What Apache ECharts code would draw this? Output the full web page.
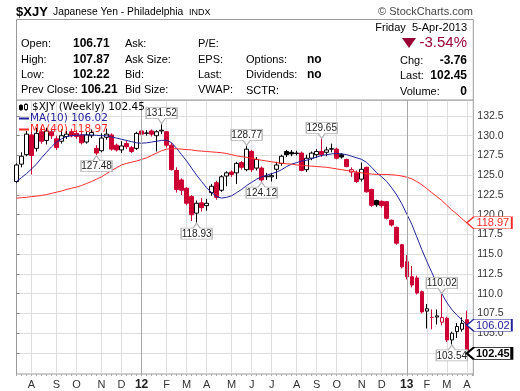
<!DOCTYPE html>
<html><head><meta charset="utf-8">
<script src="https://cdn.jsdelivr.net/npm/echarts@6/dist/echarts.min.js"></script>
<style>html,body{margin:0;padding:0;background:#fff}#c{width:520px;height:391px}</style>
</head><body><div id="c"></div>
<script>
// ---- data (weekly, first bar = week of Mon 2011-07-11) ----
const firstWeek = '2011-07-11';
const opens  = [124.2,126.4,127.6,130.1,128.4,130.5,129.4,130.5,129.6,129.3,
 129.9,130.5,130.3,130.1,129.2,130.0,128.4,128.1,129.8,130.1,
 128.8,128.2,129.0,128.5,128.4,130.6,130.3,130.6,130.0,130.6,
 130.5,128.8,125.6,124.4,123.35,122.3,120.2,121.5,121.15,122.8,
 124.05,123.1,124.9,125.4,125.3,126.6,125.7,128.0,125.9,125.9,
 124.8,124.8,125.75,126.5,128.0,127.9,127.8,127.8,125.7,127.15,
 127.6,128.0,127.9,128.3,128.3,127.6,127.0,125.4,125.3,124.5,
 126.0,123.2,121.8,121.7,121.65,119.3,118.4,116.2,114.05,112.15,
 112.0,110.25,107.8,107.0,107.05,106.4,106.9,104.15,105.2,105.5,
 106.71];
const closes = [126.3,127.4,130.2,127.5,130.3,129.3,130.6,130.0,128.5,130.0,
 130.2,130.0,129.9,129.1,130.1,130.4,127.8,129.7,130.2,128.3,
 128.2,128.7,128.6,128.0,130.3,130.2,130.35,130.2,130.5,130.7,
 128.8,125.7,123.2,123.1,121.45,120.0,121.45,120.9,121.45,123.6,
 122.2,124.8,125.3,125.1,126.5,126.0,128.3,125.7,127.0,124.4,
 124.9,124.95,126.3,127.4,127.6,127.7,127.75,125.6,127.15,127.8,
 128.0,127.6,128.2,128.35,127.15,127.3,126.1,125.7,124.2,125.75,
 122.9,121.2,121.25,121.15,119.55,118.7,116.4,113.4,112.15,111.1,
 110.1,107.7,108.1,107.0,107.2,107.0,104.15,105.0,105.85,106.25,
 102.45];
const lows   = [124.0,126.0,127.4,125.1,128.0,129.0,128.9,129.6,128.2,129.0,
 129.6,129.8,129.6,128.9,129.0,129.7,127.48,127.9,129.5,128.1,
 128.0,127.8,128.3,127.8,128.2,129.3,130.0,129.9,128.0,130.2,
 128.5,125.6,122.8,122.5,121.2,119.2,118.93,120.4,120.5,122.4,
 121.9,122.9,123.6,124.8,123.9,125.7,125.5,125.4,125.6,124.12,
 124.4,124.2,124.5,126.2,127.3,127.4,127.5,125.5,125.4,126.9,
 127.2,127.3,127.4,127.9,127.0,127.1,126.0,124.8,124.0,124.2,
 122.8,121.0,121.0,120.9,119.4,118.5,116.2,113.2,111.8,110.8,
 109.9,107.5,105.6,105.5,106.1,106.0,103.9,103.54,104.4,105.2,
 102.22];
const highs  = [126.5,127.9,130.6,131.0,131.0,131.2,131.0,130.9,130.0,130.8,
 130.6,130.9,130.7,130.5,130.5,130.8,128.8,130.3,130.9,130.3,
 129.0,129.3,129.4,128.7,130.5,130.8,130.7,130.8,130.7,131.52,
 130.6,129.1,126.0,124.6,123.5,122.5,121.8,122.1,122.0,123.9,
 124.3,125.0,125.5,125.6,126.7,126.8,128.77,128.2,127.3,126.1,
 125.3,125.3,126.7,127.6,128.2,128.2,128.1,128.0,127.6,128.0,
 128.3,129.65,128.6,129.0,128.5,127.8,127.1,126.0,125.6,126.6,
 126.1,123.3,121.9,121.8,121.7,119.4,118.5,116.3,114.9,113.5,
 112.3,110.4,108.7,108.0,108.0,110.02,107.1,105.2,106.3,107.0,
 107.87];
const ma10 = [124.2,124.7,125.2,125.8,126.4,127.2,127.9,128.6,129.2,129.6,
 129.9,130.0,130.05,130.1,130.1,130.1,130.05,130.0,130.0,129.85,
 129.7,129.55,129.4,129.25,129.1,129.05,129.1,129.2,129.3,129.4,
 129.45,129.1,128.4,127.6,126.8,125.9,125.0,124.2,123.4,122.8,
 122.3,122.1,122.2,122.4,122.8,123.2,123.7,124.1,124.5,124.8,
 125.0,125.2,125.4,125.7,126.1,126.4,126.6,126.8,126.9,127.1,
 127.3,127.5,127.6,127.7,127.75,127.7,127.6,127.4,127.2,127.0,
 126.6,126.0,125.3,124.8,124.2,123.4,122.5,121.4,120.1,118.8,
 117.2,115.6,114.1,112.7,111.3,110.0,108.9,108.0,107.3,106.7,
 106.02];
const ma40 = [122.1,122.15,122.2,122.3,122.35,122.45,122.55,122.7,122.85,123.0,
 123.2,123.35,123.5,123.7,123.95,124.2,124.5,124.8,125.2,125.6,
 125.95,126.3,126.5,126.65,126.8,127.0,127.2,127.5,127.8,128.1,
 128.3,128.35,128.35,128.3,128.25,128.2,128.1,128.05,128.0,127.95,
 127.9,127.85,127.75,127.6,127.45,127.35,127.25,127.15,127.0,126.9,
 126.8,126.7,126.6,126.5,126.45,126.4,126.3,126.25,126.2,126.15,
 126.1,126.05,126.0,125.9,125.8,125.7,125.6,125.5,125.4,125.3,
 125.2,125.15,125.1,125.1,125.1,125.05,125.0,124.9,124.75,124.55,
 124.2,123.8,123.3,122.8,122.3,121.8,121.2,120.6,120.1,119.5,
 118.97];
// month tick positions (bar index of first week of month) and their labels
const xTickIdx  = [3,8,12,17,21,25,30,34,38,43,47,51,56,60,64,69,73,78,82,86,90];
const xTickText = ['A','S','O','N','D','12','F','M','A','M','J','J','A','S','O','N','D','13','F','M','A'];
const yearIdx = [25,78];
const yTicks = [102.5,105,107.5,110,112.5,115,117.5,120,122.5,125,127.5,130,132.5];
// annotated highs / lows
const noteIdx  = [29,16,46,49,61,36,85,87];
const noteKind = ['high','low','high','low','high','low','high','low'];

// ---- build ----
const RED = '#cc0033', BLACK = '#000000', NAVY = '#22229a', MARED = '#ff2a2a';
const FONT = "'Liberation Sans', Arial, sans-serif";
const weeks = [];
{ const d0 = new Date(firstWeek + 'T00:00:00Z');
  for (let i = 0; i < opens.length; i++) { const d = new Date(d0.getTime() + i*7*864e5); weeks.push(d.toISOString().slice(0,10)); } }

const candleData = opens.map((o, i) => {
  const c = closes[i];
  const prev = i > 0 ? closes[i-1] : o;
  const col = c < prev ? RED : BLACK;
  const fill = c > o ? '#ffffff' : col;
  return { name: weeks[i], value: [i, o, c, lows[i], highs[i]],
    itemStyle: { color: fill, color0: fill, borderColor: col, borderColor0: col, borderWidth: 1 } };
});
const last = opens.length - 1;

const tagPath = 'path://M0,6L7,0L45,0L45,12L7,12Z';
const upPath = 'path://M0,0L31,0L31,11L19,11L15.5,16L12,11L0,11Z';
const dnPath = 'path://M12,5L15.5,0L19,5L31,5L31,16L0,16L0,5Z';
function sideTag(x, v, col, bold, bw) {
  return { coord: [x, v], value: v, symbol: tagPath, symbolSize: [45, 12], symbolOffset: [22.5, 0],
    itemStyle: { color: '#fff', borderColor: col, borderWidth: bw },
    label: { show: true, position: 'inside', offset: [3.5, 0.5], color: col, fontSize: 11, fontFamily: FONT,
      fontWeight: bold ? 'bold' : 'normal', formatter: p => Number(p.value).toFixed(2) } };
}
const notes = noteIdx.map((idx, k) => {
  const hi = noteKind[k] === 'high';
  const v = hi ? highs[idx] : lows[idx];
  return { coord: [idx, v], value: v, symbol: hi ? upPath : dnPath, symbolSize: [31, 16],
    symbolOffset: [0, hi ? -8 : 8],
    itemStyle: { color: '#fff', borderColor: '#b4b4b4', borderWidth: 1 },
    label: { show: true, position: 'inside', offset: [0, hi ? -2.5 : 3], color: '#222', fontSize: 10, fontFamily: FONT,
      formatter: p => Number(p.value).toFixed(2) } };
});

const T = (text, x, y, o) => Object.assign({ type: 'text', x: x, y: y, z: 100,
  style: Object.assign({ text: text, fill: '#000', font: '11px ' + FONT, align: 'left', verticalAlign: 'middle' }, (o || {})) });

const graphics = [
  { type: 'rect', z: 1, shape: { x: 16.5, y: 19.5, width: 456.8, height: 80.5 }, style: { fill: '#fff', stroke: '#9a9a9a', lineWidth: 1 } },
  T('$XJY', 16, 12, { font: 'bold 13px ' + FONT }),
  T('Japanese Yen - Philadelphia', 53, 12, { font: '10.3px ' + FONT }),
  T('INDX', 189, 12.5, { font: '9px ' + FONT }),
  T('\u00a9 StockCharts.com', 473, 12, { align: 'right', fill: '#444' }),
  T('Friday  5-Apr-2013', 467, 28, { align: 'right' }),
  { type: 'polygon', z: 100, shape: { points: [[402, 38], [416, 38], [409, 48]] }, style: { fill: '#990033' } },
  T('-3.54%', 467, 43, { align: 'right', fill: '#990033', font: '15px ' + FONT }),
  T('Open:', 21, 44), T('High:', 21, 59.5), T('Low:', 21, 74.5), T('Prev Close:', 21, 90),
  T('106.71', 73, 44, { font: 'bold 12px ' + FONT }), T('107.87', 73, 59.5, { font: 'bold 12px ' + FONT }),
  T('102.22', 73, 74.5, { font: 'bold 12px ' + FONT }), T('106.21', 81, 90, { font: 'bold 12px ' + FONT }),
  T('Ask:', 125, 44), T('Ask Size:', 125, 59.5), T('Bid:', 125, 74.5), T('Bid Size:', 125, 90),
  T('P/E:', 198, 44), T('EPS:', 198, 59.5), T('Last:', 198, 74.5), T('VWAP:', 198, 90),
  T('Options:', 246, 60), T('no', 307, 60, { font: 'bold 12px ' + FONT }),
  T('Dividends:', 246, 75), T('no', 307, 75, { font: 'bold 12px ' + FONT }),
  T('SCTR:', 246, 90.5),
  T('Chg:', 400, 61), T('-3.76', 467, 61, { align: 'right', font: 'bold 12px ' + FONT }),
  T('Last:', 400, 76), T('102.45', 467, 76, { align: 'right', font: 'bold 12px ' + FONT }),
  T('Volume:', 400, 91.5), T('0', 467, 91.5, { align: 'right', font: 'bold 12px ' + FONT }),
  // legend
  { type: 'line', z: 100, shape: { x1: 21, y1: 104, x2: 21, y2: 111 }, style: { stroke: '#000', lineWidth: 1 } },
  { type: 'rect', z: 100, shape: { x: 19.5, y: 105.5, width: 3, height: 4 }, style: { fill: '#000', stroke: '#000' } },
  { type: 'line', z: 100, shape: { x1: 26, y1: 103, x2: 26, y2: 111 }, style: { stroke: '#000', lineWidth: 1 } },
  { type: 'rect', z: 100, shape: { x: 24.5, y: 104.5, width: 3, height: 5 }, style: { fill: '#fff', stroke: '#000' } },
  T('$XJY (Weekly) 102.45', 32, 107.5, { font: '10.5px DejaVu Sans, Verdana, sans-serif' }),
  { type: 'line', z: 100, shape: { x1: 19, y1: 118.5, x2: 29, y2: 118.5 }, style: { stroke: NAVY, lineWidth: 2 } },
  T('MA(10) 106.02', 30, 118.5, { font: '10.5px DejaVu Sans, Verdana, sans-serif', fill: NAVY }),
  { type: 'line', z: 100, shape: { x1: 19, y1: 129.5, x2: 29, y2: 129.5 }, style: { stroke: MARED, lineWidth: 2 } },
  T('MA(40) 118.97', 30, 129.5, { font: '10.5px DejaVu Sans, Verdana, sans-serif', fill: MARED })
];

const chart = echarts.init(document.getElementById('c'), null, { renderer: 'canvas' });
chart.setOption({
  animation: false,
  backgroundColor: '#fff',
  graphic: graphics,
  grid: [
    { left: 16.5, right: 46.7, top: 100, bottom: 17, show: true, borderColor: '#9a9a9a', borderWidth: 1, backgroundColor: 'transparent' },
    { left: 16.5, right: 46.7, top: 100, bottom: 17, show: false }
  ],
  xAxis: [
    { type: 'value', gridIndex: 0, min: 0, max: 91.3, position: 'bottom',
      axisLine: { show: false }, axisTick: { show: false, customValues: xTickIdx },
      axisLabel: { customValues: xTickIdx, margin: 5, color: '#333', fontSize: 11, fontFamily: FONT,
        formatter: v => { const t = xTickText[xTickIdx.indexOf(v)] || ''; return /^\d+$/.test(t) ? '{b|' + t + '}' : t; },
        rich: { b: { fontWeight: 'bold', fontSize: 12, color: '#222', fontFamily: FONT } } },
      splitLine: { show: true, lineStyle: { color: '#dedede', width: 1 } } },
    { type: 'value', gridIndex: 1, min: 0, max: 91.3, interval: 1, position: 'bottom',
      axisLine: { show: false }, axisTick: { show: true, length: 2, lineStyle: { color: '#aaa' } },
      axisLabel: { show: false }, splitLine: { show: false } }
  ],
  yAxis: [
    { type: 'value', gridIndex: 0, position: 'right', min: 99.84, max: 134.52,
      axisLine: { show: true, lineStyle: { color: '#9a9a9a' } },
      axisTick: { show: true, length: 3, customValues: yTicks, lineStyle: { color: '#888' } },
      axisLabel: { customValues: yTicks, margin: 4, color: '#333', fontSize: 10.5, fontFamily: FONT, formatter: v => v.toFixed(1) },
      splitLine: { show: true, lineStyle: { color: '#dedede', width: 1 } } },
    { type: 'value', gridIndex: 1, show: false, min: 0, max: 1 }
  ],
  series: [
    { type: 'line', xAxisIndex: 0, yAxisIndex: 0, data: [], z: 1, silent: true,
      markLine: { silent: true, symbol: 'none', label: { show: false }, animation: false,
        lineStyle: { color: '#a8a8a8', type: 'solid', width: 1 }, data: yearIdx.map(i => ({ xAxis: i })) } },
    { type: 'candlestick', xAxisIndex: 0, yAxisIndex: 0, z: 2, barWidth: 4,
      dimensions: ['idx', 'open', 'close', 'lowest', 'highest'],
      encode: { x: 0, y: [1, 2, 3, 4] }, data: candleData,
      markPoint: { animation: false, data: notes.concat([sideTag(last, closes[last], '#000', true, 1.6)]) } },
    { type: 'line', xAxisIndex: 0, yAxisIndex: 0, z: 3, data: ma10.map((v, i) => [i, v]), showSymbol: false,
      lineStyle: { color: NAVY, width: 1 }, itemStyle: { color: NAVY },
      markPoint: { animation: false, data: [sideTag(last, ma10[last], NAVY, false, 1)] } },
    { type: 'line', xAxisIndex: 0, yAxisIndex: 0, z: 3, data: ma40.map((v, i) => [i, v]), showSymbol: false,
      lineStyle: { color: MARED, width: 1 }, itemStyle: { color: MARED },
      markPoint: { animation: false, data: [sideTag(last, ma40[last], MARED, false, 1)] } }
  ]
});
</script></body></html>
